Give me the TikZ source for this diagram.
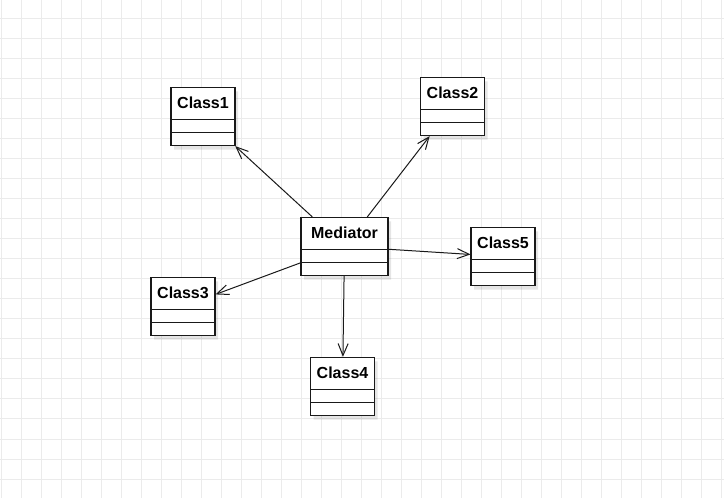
\documentclass[tikz,border=0pt]{standalone}
\usepackage{fontspec}
\setmainfont{Liberation Sans}
\usetikzlibrary{shapes.multipart,shadows,arrows.meta}
\definecolor{gridline}{RGB}{235,235,235}
\definecolor{umlline}{RGB}{25,25,25}
\newcommand{\umlhead}[1]{\rule[-7.5pt]{0pt}{23.25pt}#1}

\begin{document}
\begin{tikzpicture}[
    x=0.75pt, y=-0.75pt,
    cls/.style={rectangle split, rectangle split parts=3, draw=umlline, line width=0.8pt, fill=white,
        inner xsep=0pt, inner ysep=0pt, minimum width=48pt,
        rectangle split empty part height=9pt, rectangle split empty part depth=0pt,
        font=\fontsize{12pt}{14pt}\selectfont\bfseries,
        drop shadow={shadow xshift=2.25pt, shadow yshift=-3pt, fill=black, opacity=0.1}},
    dep/.style={-{Straight Barb[length=9pt,width=7.5pt]}, line width=0.75pt, draw=umlline}
]

% Canvas and grid
\useasboundingbox[fill=white] (0,0) rectangle (724,498);
\draw[gridline, line width=0.75pt, step=15pt, xshift=0.75pt, yshift=0.75pt] (-2,-2) grid (726,500);

% Mediator
\node[cls, minimum width=65.25pt] (med) at (344.5,246.5) {\umlhead{Mediator}\nodepart{two}\nodepart{three}};

% Colleague classes
\node[cls] (c1) at (203,116.5) {\umlhead{Class1}\nodepart{two}\nodepart{three}};
\node[cls] (c2) at (452.5,106.5) {\umlhead{Class2}\nodepart{two}\nodepart{three}};
\node[cls] (c3) at (183,306.5) {\umlhead{Class3}\nodepart{two}\nodepart{three}};
\node[cls] (c4) at (342.5,386.5) {\umlhead{Class4}\nodepart{two}\nodepart{three}};
\node[cls] (c5) at (503,256.5) {\umlhead{Class5}\nodepart{two}\nodepart{three}};

% Associations
\draw[dep] (med) -- (c1);
\draw[dep] (med) -- (c2);
\draw[dep] (med) -- (c3);
\draw[dep] (med) -- (c4);
\draw[dep] (med) -- (c5);

\end{tikzpicture}
\end{document}
